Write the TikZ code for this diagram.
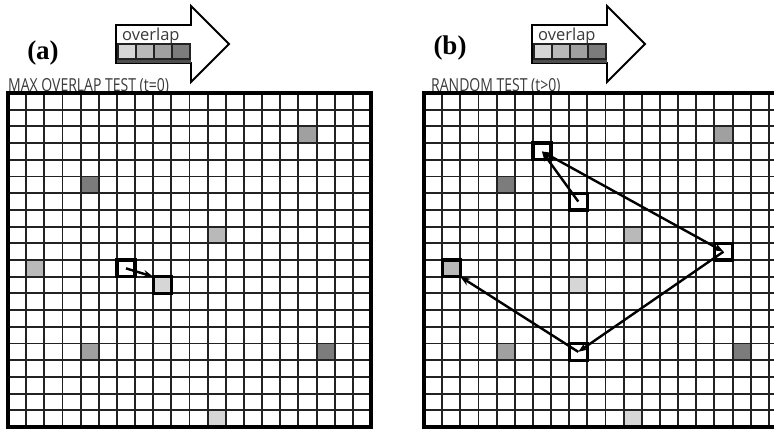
\documentclass[tikz,border=0pt]{standalone}
\usepackage{fontspec}
\setmainfont{Liberation Serif}
\newfontfamily\uifont{Open Sans}
\usetikzlibrary{arrows.meta}
\definecolor{gA}{HTML}{D6D6D6}
\definecolor{gB}{HTML}{B9B9B9}
\definecolor{gC}{HTML}{A0A0A0}
\definecolor{gD}{HTML}{7C7C7C}
\definecolor{gridc}{HTML}{222222}
\definecolor{txtc}{HTML}{3A3A3A}
\def\cw{18.15}
\def\ch{16.7}
\tikzset{
  cellbox/.style={minimum width=\cw pt, minimum height=\ch pt, inner sep=0pt, outer sep=0pt, draw=none},
  pickbox/.style={cellbox, draw=black, line width=3.3pt},
  gridline/.style={draw=gridc, line width=1.9pt},
  frameline/.style={draw=black, line width=3.2pt},
  movearrow/.style={draw=black, line width=2.4pt, -{Stealth[length=10pt,width=7.5pt]}},
  bothway/.style={draw=black, line width=2.4pt, {Stealth[length=10pt,width=7.5pt]}-{Stealth[length=10pt,width=7.5pt]}},
  blockarrow/.style={draw=black, fill=white, line width=1.9pt, line join=miter},
  legsq/.style={minimum width=18pt, minimum height=15pt, inner sep=0pt, draw=gridc, line width=1.1pt},
  paneltag/.style={font=\bfseries\fontsize{27}{27}\selectfont, inner sep=0pt},
  titletxt/.style={font=\uifont\fontsize{14}{14}\selectfont, text=txtc, inner sep=0pt, anchor=base west, yscale=1.28},
  legtxt/.style={font=\uifont\fontsize{16.5}{16}\selectfont, text=txtc, inner sep=0pt, anchor=base west}
}
\begin{document}
\begin{tikzpicture}[x=1pt,y=-1pt]
\useasboundingbox (0,0) rectangle (774,429);
\clip (0,0) rectangle (774,429);
\fill[white] (0,0) rectangle (774,429);

% ---------- legend block arrows ----------
\foreach \ox/\nm in {0/a,416/b}{
  \begin{scope}[xshift=\ox pt]
    \draw[blockarrow] (116,25) -- (191,25) -- (191,6) -- (229,44) -- (191,82) -- (191,63) -- (116,63) -- cycle;
    \node[legtxt] (ov\nm) at (122,40.5) {overlap};
    \node[legsq, fill=gA] (l1\nm) at (127,51.5) {};
    \node[legsq, fill=gB] (l2\nm) at (145,51.5) {};
    \node[legsq, fill=gC] (l3\nm) at (163,51.5) {};
    \node[legsq, fill=gD] (l4\nm) at (181,51.5) {};
    \fill[gridc!80] (117,59.5) rectangle (191,63);
  \end{scope}
}
\node[paneltag] (tagA) at (43,53) {(a)};
\node[paneltag] (tagB) at (450,48.5) {(b)};

\node[titletxt] (titA) at (8,91.8) {MAX OVERLAP TEST (t=0)};
\node[titletxt] (titB) at (431,91.8) {RANDOM TEST (t>0)};

% ---------- grids ----------
\foreach \gx/\gn in {8/a,424/b}{
  \fill[white] (\gx,93) rectangle ++(20*\cw,20*\ch);
  % shaded cells (common)
  \foreach \c/\r/\col in {16/2/gC,4/5/gD,11/8/gB,1/10/gB,4/15/gC,17/15/gD,11/19/gA}{
    \node[cellbox, fill=\col] (\gn-\c-\r) at ({\gx+(\c+0.5)*\cw},{93+(\r+0.5)*\ch}) {};
  }
  \node[cellbox, fill=gA] (\gn-8-11) at ({\gx+8.5*\cw},{93+11.5*\ch}) {};
  \foreach \i in {1,...,19}{
    \draw[gridline] ({\gx+\i*\cw},93) -- ++(0,20*\ch);
    \draw[gridline] (\gx,{93+\i*\ch}) -- ++(20*\cw,0);
  }
  \draw[frameline] (\gx,93) rectangle ++(20*\cw,20*\ch);
}

% ---------- panel (a) ----------
\node[pickbox] (a-6-10) at ({8+6.5*\cw},{93+10.5*\ch}) {};
\node[pickbox, fill=gA] (a-8-11b) at ({8+8.5*\cw},{93+11.5*\ch}) {};
\draw[movearrow] (a-6-10.center) -- (a-8-11b.north west);

% ---------- panel (b) ----------
\node[pickbox] (b-8-6) at ({424+8.5*\cw},{93+6.5*\ch}) {};
\node[pickbox] (b-6-3) at ({424+6.5*\cw},{93+3.5*\ch}) {};
\node[pickbox] (b-16-9) at ({424+16.5*\cw},{93+9.5*\ch}) {};
\node[pickbox] (b-8-15) at ({424+8.5*\cw},{93+15.5*\ch}) {};
\node[pickbox, fill=gB] (b-1-10b) at ({424+1.5*\cw},{93+10.5*\ch}) {};
\draw[movearrow] (b-8-6.center) -- (b-6-3.center);
\draw[bothway] (b-6-3.center) -- (b-16-9.center);
\draw[movearrow] (b-16-9.center) -- (b-8-15.center);
\draw[movearrow] (b-8-15.center) -- (b-1-10b.south east);
\end{tikzpicture}
\end{document}
